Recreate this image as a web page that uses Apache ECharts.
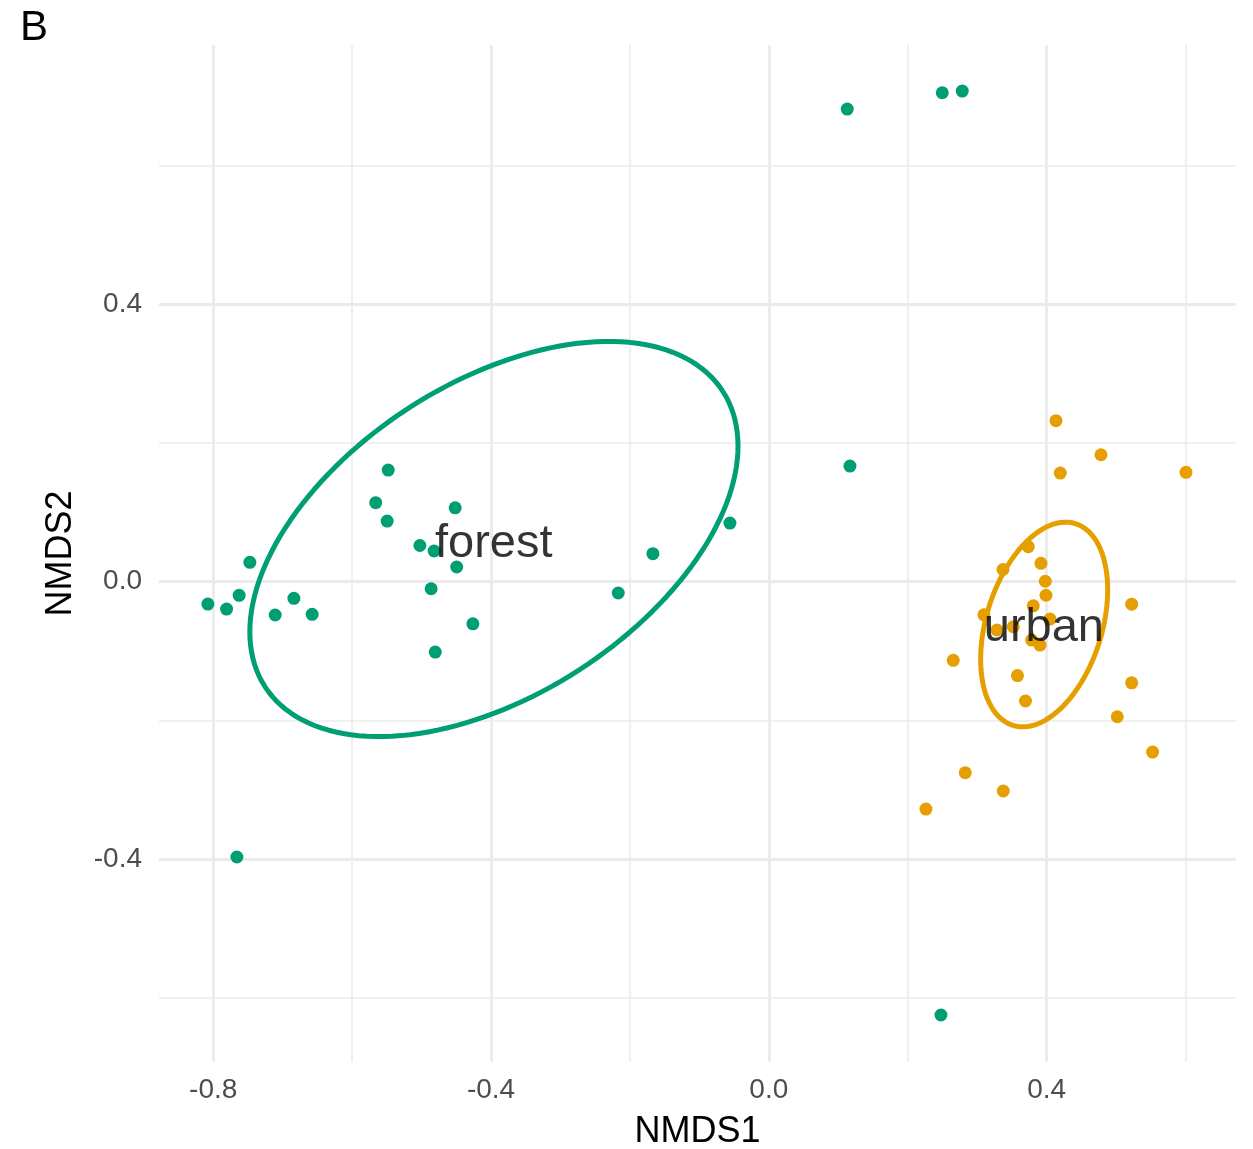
<!DOCTYPE html>
<html>
<head>
<meta charset="utf-8">
<script src="https://cdn.jsdelivr.net/npm/echarts@6/dist/echarts.min.js"></script>
<style>
    html, body { margin: 0; padding: 0; background: #fff; }
    #chart { width: 1253px; height: 1149px; }
</style>
</head>
<body>
<div id="chart"></div>
<script>
// axis ranges and grid breaks
const xMin = -0.878, xMax = 0.6726;
const yMin = -0.6926, yMax = 0.774;
const xMajor = [-0.8, -0.4, 0, 0.4];
const xMinor = [-0.6, -0.2, 0.2, 0.6];
const yMajor = [-0.4, 0, 0.4];
const yMinor = [-0.6, -0.2, 0.2, 0.6];

// site scores
const forestX = [-0.548, -0.566, -0.4516, -0.5495, -0.5024, -0.4819, -0.4494, -0.7472, -0.8076, -0.7807,
    -0.7626, -0.6838, -0.7107, -0.6575, -0.4862, -0.4261, -0.4803, -0.2168, -0.1669, -0.056,
    0.1129, 0.2497, 0.2785, 0.1168, -0.7659, 0.2478];
const forestY = [0.161, 0.114, 0.1066, 0.0875, 0.0522, 0.0443, 0.0212, 0.028, -0.0322, -0.0394,
    -0.0196, -0.0239, -0.048, -0.047, -0.0101, -0.0607, -0.1014, -0.0163, 0.0404, 0.0846,
    0.6816, 0.7051, 0.7076, 0.1668, -0.397, -0.6248];
const urbanX = [0.4134, 0.4782, 0.4196, 0.6006, 0.3735, 0.3371, 0.3918, 0.398, 0.399, 0.3807,
    0.5224, 0.3097, 0.3284, 0.3519, 0.4048, 0.3784, 0.3904, 0.2655, 0.358, 0.3695,
    0.5224, 0.5017, 0.5526, 0.2828, 0.3375, 0.2262];
const urbanY = [0.2322, 0.1831, 0.1567, 0.1577, 0.0505, 0.0176, 0.0265, 0.0007, -0.0195, -0.0348,
    -0.0324, -0.0477, -0.0696, -0.0649, -0.0538, -0.0841, -0.0913, -0.1133, -0.1353, -0.172,
    -0.1458, -0.1947, -0.2456, -0.2754, -0.3018, -0.3278];

// group labels and ellipses
const groupNames = ["forest", "urban"];
const groupColors = ["#009E73", "#E69F00"];
const labelX = [-0.396, 0.396];
const labelY = [0.053, -0.067];
const ellipseCx = [-0.3958, 0.3964];
const ellipseCy = [0.0616, -0.0617];
const ellipseA = [0.3924, 0.1523];
const ellipseB = [0.2252, 0.0834];
const ellipseAngle = [32.9, 72.9];

const FONT = "Liberation Sans, Arial, sans-serif";

function zip(xs, ys) {
    return xs.map((x, i) => [x, ys[i]]);
}

function ellipsePath(i) {
    const pts = [];
    const th = ellipseAngle[i] * Math.PI / 180;
    for (let k = 0; k <= 160; k++) {
        const t = 2 * Math.PI * k / 160;
        const u = ellipseA[i] * Math.cos(t);
        const v = ellipseB[i] * Math.sin(t);
        pts.push([
            ellipseCx[i] + u * Math.cos(th) - v * Math.sin(th),
            ellipseCy[i] + u * Math.sin(th) + v * Math.cos(th),
        ]);
    }
    return pts;
}

const gridLines = [];
xMinor.forEach(v => gridLines.push({ xAxis: v, lineStyle: { width: 1.6 } }));
yMinor.forEach(v => gridLines.push({ yAxis: v, lineStyle: { width: 1.6 } }));
xMajor.forEach(v => gridLines.push({ xAxis: v, lineStyle: { width: 2.8 } }));
yMajor.forEach(v => gridLines.push({ yAxis: v, lineStyle: { width: 2.8 } }));

const chart = echarts.init(document.getElementById("chart"));

chart.setOption({
    animation: false,
    backgroundColor: "#fff",
    textStyle: { fontFamily: FONT },
    title: {
        text: "B",
        left: 15,
        top: 2,
        textStyle: { fontSize: 42, fontWeight: "normal", color: "#000", fontFamily: FONT },
    },
    grid: { left: 159, top: 45, width: 1077, height: 1017, outerBoundsMode: "none" },
    xAxis: {
        type: "value",
        min: xMin,
        max: xMax,
        axisLine: { show: false },
        axisTick: { show: false },
        splitLine: { show: false },
        axisLabel: {
            customValues: xMajor,
            formatter: v => v.toFixed(1),
            fontSize: 28,
            color: "#4d4d4d",
            margin: 14,
            fontFamily: FONT,
        },
        name: "NMDS1",
        nameLocation: "middle",
        nameGap: 52,
        nameTextStyle: { fontSize: 36, color: "#000", fontFamily: FONT },
    },
    yAxis: {
        type: "value",
        min: yMin,
        max: yMax,
        axisLine: { show: false },
        axisTick: { show: false },
        splitLine: { show: false },
        axisLabel: {
            customValues: yMajor,
            formatter: v => v.toFixed(1),
            fontSize: 28,
            color: "#4d4d4d",
            margin: 17,
            fontFamily: FONT,
        },
        name: "NMDS2",
        nameLocation: "middle",
        nameGap: 80,
        nameTextStyle: { fontSize: 36, color: "#000", fontFamily: FONT },
    },
    series: [
        {
            name: "grid",
            type: "scatter",
            data: [],
            silent: true,
            z: 0,
            markLine: {
                silent: true,
                z: 0,
                symbol: ["none", "none"],
                label: { show: false },
                lineStyle: { color: "#ebebeb", type: "solid" },
                emphasis: { disabled: true },
                data: gridLines,
            },
        },
        ...groupNames.map((g, i) => ({
            name: g + "-ellipse",
            type: "line",
            data: ellipsePath(i),
            showSymbol: false,
            symbol: "none",
            smooth: false,
            silent: true,
            z: 2,
            lineStyle: { color: groupColors[i], width: 5 },
        })),
        {
            name: "forest",
            type: "scatter",
            data: zip(forestX, forestY),
            symbolSize: 13,
            z: 3,
            itemStyle: { color: groupColors[0], opacity: 1 },
        },
        {
            name: "urban",
            type: "scatter",
            data: zip(urbanX, urbanY),
            symbolSize: 13,
            z: 3,
            itemStyle: { color: groupColors[1], opacity: 1 },
        },
        {
            name: "labels",
            type: "scatter",
            data: groupNames.map((g, i) => ({ name: g, value: [labelX[i], labelY[i]] })),
            symbolSize: 1,
            itemStyle: { color: "transparent" },
            silent: true,
            z: 4,
            label: {
                show: true,
                position: "top",
                distance: 0,
                align: "center",
                verticalAlign: "middle",
                formatter: p => p.name,
                fontSize: 47,
                color: "#000000",
                fontFamily: FONT,
            },
        },
    ],
});
</script>
</body>
</html>
